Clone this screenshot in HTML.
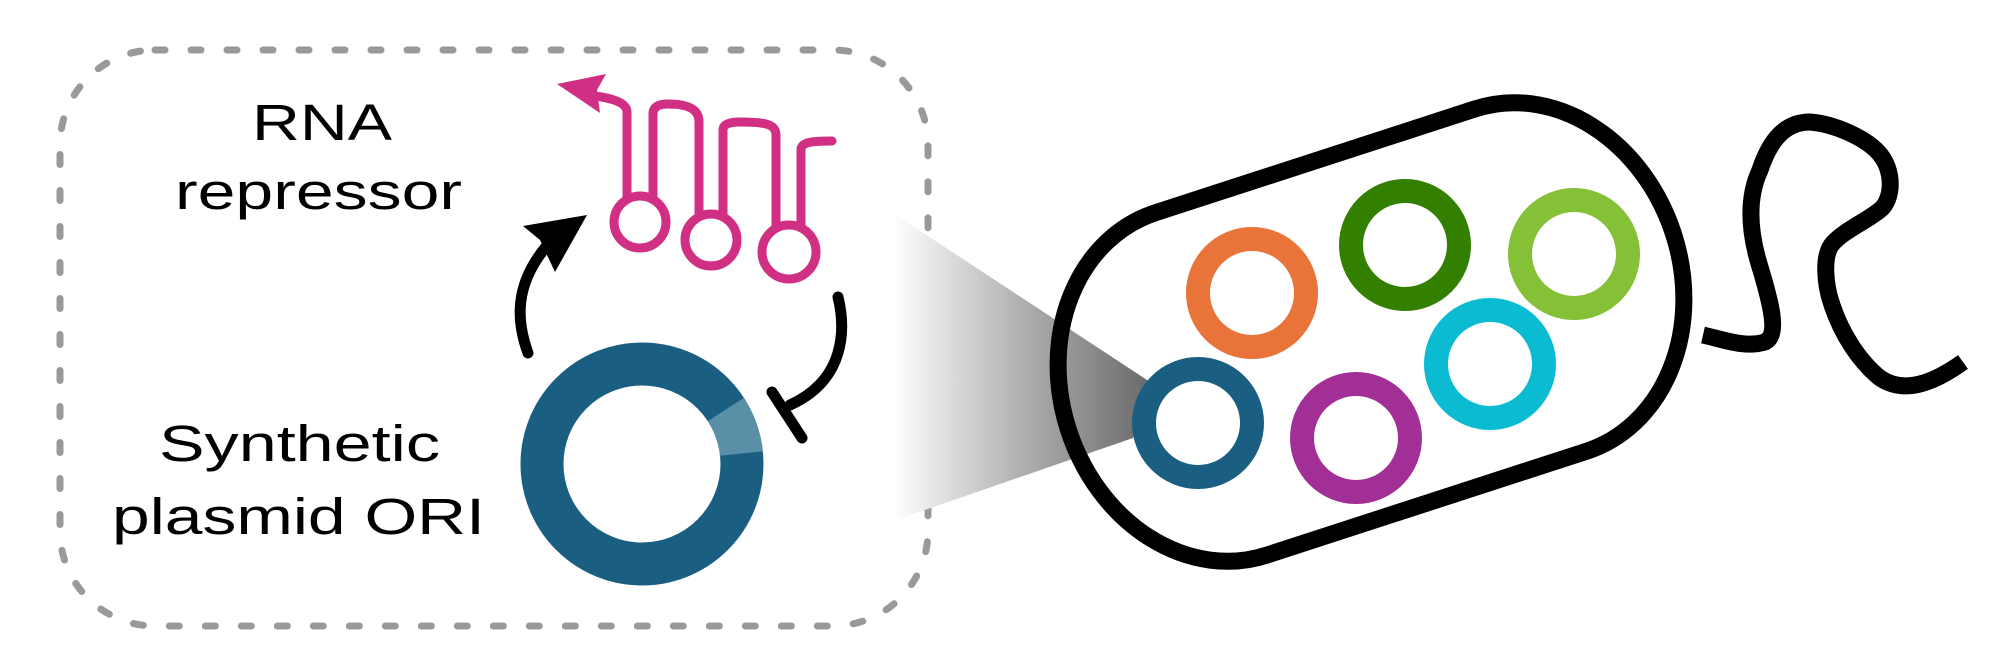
<!DOCTYPE html>
<html><head><meta charset="utf-8"><style>
html,body{margin:0;padding:0;background:#fff;}
svg{display:block;}
</style></head><body>
<svg width="2000" height="667" viewBox="0 0 2000 667" xmlns="http://www.w3.org/2000/svg">
<defs>
<linearGradient id="wg" x1="893" y1="0" x2="1150" y2="0" gradientUnits="userSpaceOnUse">
<stop offset="0" stop-color="#ffffff"/>
<stop offset="0.5" stop-color="#b0b0b0"/>
<stop offset="1" stop-color="#6a6a6a"/>
</linearGradient>
</defs>
<rect x="60" y="50" width="868" height="576" rx="95" ry="95" fill="none" stroke="#999" stroke-width="7" stroke-linecap="round" stroke-dasharray="10 26"/>
<g font-family="Liberation Sans, Arial, sans-serif" font-size="44" fill="#000" transform="scale(1 1.15)">
<text x="252" y="121.7" textLength="140" lengthAdjust="spacingAndGlyphs">RNA</text>
<text x="175" y="181.7" textLength="287" lengthAdjust="spacingAndGlyphs">repressor</text>
<text x="159" y="400.9" textLength="281" lengthAdjust="spacingAndGlyphs">Synthetic</text>
<text x="112" y="464.3" textLength="373" lengthAdjust="spacingAndGlyphs">plasmid ORI</text>
</g>
<circle cx="642" cy="464" r="100" fill="none" stroke="#1a5f82" stroke-width="43"/>
<path d="M 725.9 409.5 A 100 100 0 0 1 741.4 453.5" fill="none" stroke="#5a8fa8" stroke-width="43"/>
<path d="M528 353 C516 320 515 285 545 248" fill="none" stroke="#000" stroke-width="11" stroke-linecap="round"/>
<polygon points="587,215 523,226 540,240 555,272" fill="#000"/>
<path d="M838 297 C846 330 845 380 790 405" fill="none" stroke="#000" stroke-width="11" stroke-linecap="round"/>
<line x1="772" y1="392" x2="802" y2="438" stroke="#000" stroke-width="11" stroke-linecap="round"/>
<g fill="none" stroke="#d02f84" stroke-width="9" stroke-linejoin="round" stroke-linecap="round">
<path d="M595 96 C610 98 627 102 627 112 L627 197"/>
<path d="M653 197 L653 114 C653 106 660 104 668 104 C690 104 699 110 699 122 L699 214"/>
<path d="M723 216 L723 130 C723 124 730 122 740 122 C765 122 776 124 776 135 L776 226"/>
<path d="M801 228 L801 150 C801 142 812 141 832 141"/>
<circle cx="640" cy="222" r="26"/>
<circle cx="711" cy="240" r="26"/>
<circle cx="789" cy="252" r="27"/>
</g>
<polygon points="557,84 606,74 597,90 600,113" fill="#d02f84"/>
<g transform="translate(1371 332) rotate(-18)">
<rect x="-318" y="-180" width="636" height="360" rx="150" ry="180" fill="#fff"/>
</g>
<polygon points="893,213 1150,382 1133,438 893,521" fill="url(#wg)"/>
<g transform="translate(1371 332) rotate(-18)">
<rect x="-318" y="-180" width="636" height="360" rx="150" ry="180" fill="none" stroke="#000" stroke-width="17"/>
</g>
<path d="M1703 335 C1725 340 1745 348 1765 342 C1780 335 1770 300 1760 267 C1750 235 1746 200 1760 170 C1770 140 1785 122 1810 122 C1835 124 1865 138 1878 152 C1895 170 1893 200 1880 210 C1865 222 1845 230 1833 243 C1822 255 1825 285 1832 305 C1842 335 1860 362 1880 378 C1905 395 1935 382 1963 362" fill="none" stroke="#000" stroke-width="17" stroke-linejoin="round"/>
<g fill="none" stroke-width="24">
<circle cx="1252" cy="293" r="54" stroke="#e8743a"/>
<circle cx="1405" cy="245" r="54" stroke="#338000"/>
<circle cx="1574" cy="254" r="54" stroke="#85c136"/>
<circle cx="1490" cy="364" r="54" stroke="#0bbbd2"/>
<circle cx="1198" cy="423" r="54" stroke="#1a5f82"/>
<circle cx="1356" cy="438" r="54" stroke="#a22f96"/>
</g>
</svg>
</body></html>
